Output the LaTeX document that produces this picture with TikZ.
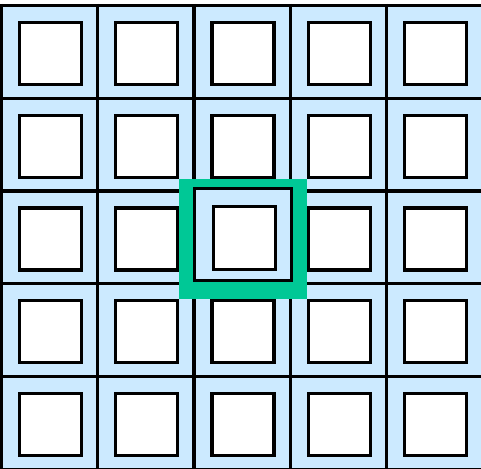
\documentclass[tikz,border=0pt]{standalone}
\definecolor{cellblue}{RGB}{204,234,255}
\definecolor{hlgreen}{RGB}{0,200,150}
\tikzset{
  gridline/.style={draw=black,line width=3.2pt},
  innersq/.style={draw=black,fill=white,line width=3.2pt},
  cellframe/.style={draw=black,fill=cellblue,line width=3pt}
}
\begin{document}
\begin{tikzpicture}[x=1pt,y=-1pt]
\useasboundingbox (0,0) rectangle (481,468);
\fill[white] (0,0) rectangle (481,468);
\begin{scope}
\clip (0,0) rectangle (481,468);
\fill[cellblue] (1.5,5.5) rectangle (485,472);
\foreach \i in {0,...,5} {
  \draw[gridline] ({1.5+96.25*\i},4) -- ({1.5+96.25*\i},472);
}
\foreach \j in {0,...,5} {
  \draw[gridline] (0,{5.5+92.75*\j}) -- (485,{5.5+92.75*\j});
}
\foreach \i in {0,...,4} {
  \foreach \j in {0,...,4} {
    \draw[innersq] ({19.5+96.25*\i},{22.5+92.75*\j}) rectangle ({81.5+96.25*\i},{84.5+92.75*\j});
  }
}
\fill[hlgreen] (179.3,179.3) rectangle (306.7,299.3);
\draw[cellframe] (194.6,188.6) rectangle (291,280.6);
\draw[innersq] (213.2,206.5) rectangle (275.8,269.2);
\end{scope}
\end{tikzpicture}
\end{document}
